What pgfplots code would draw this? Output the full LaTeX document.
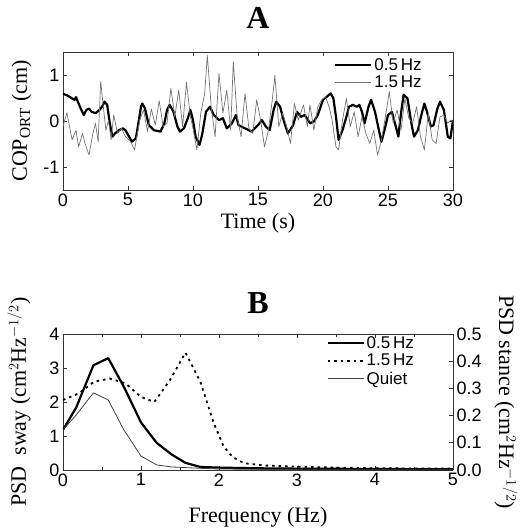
\documentclass[border=0pt]{standalone}
\usepackage{fontspec}
\setmainfont{Liberation Serif}
\newfontfamily\arial{Liberation Sans}
\usepackage{pgfplots}
\pgfplotsset{compat=1.18}

\pgfplotsset{
  panel/.style={
    scale only axis, width=390pt,
    tick align=inside, axis line style={black!80, line width=0.8pt},
    tick style={black!80, line width=0.7pt}, major tick length=4pt, minor tick length=3pt,
    tick label style={font=\fontsize{18}{18}\arial},
    /pgf/number format/assume math mode=true,
    label style={font=\fontsize{22}{24}\selectfont},
    legend style={draw=none, fill=none, font=\fontsize{17}{17}\arial,
                  cells={anchor=west}, row sep=0.5pt, inner sep=0pt},
    legend image code/.code={\draw[#1] (0pt,0pt) -- (36pt,0pt);},
  },
}

\begin{document}
\begin{tikzpicture}
\useasboundingbox (0pt,0pt) rectangle (522pt,531pt);

\node[font=\fontsize{32}{32}\selectfont\bfseries] at (258pt,513pt) {A};
\node[font=\fontsize{32}{32}\selectfont\bfseries] at (258pt,228pt) {B};

% panel A: COP time series
\begin{axis}[panel, at={(63pt,341pt)}, anchor=south west, height=138pt,
  xmin=0, xmax=30, ymin=-1.5, ymax=1.5,
  xtick={0,5,...,30}, ytick={-1,0,1},
  xlabel={Time (s)}, ylabel={COP$_{\mathrm{ORT}}$ (cm)},
  ylabel style={yshift=5pt},
  legend style={at={(0.695,0.97)}, anchor=north west},
]
\addplot[black, line width=2.2pt, line join=round] coordinates {
(0,0.59) (0.3,0.56) (0.7,0.49) (0.9,0.46) (1.0,0.52) (1.3,0.31) (1.6,0.13) (1.8,0.24)
(2.0,0.27) (2.2,0.20) (2.5,0.17) (2.8,0.24) (3.0,0.31) (3.2,0.42) (3.4,0.35) (3.6,-0.05)
(3.8,-0.34) (4.0,-0.27) (4.3,-0.20) (4.6,-0.16) (4.8,-0.20) (5.0,-0.30) (5.3,-0.45) (5.6,-0.38)
(5.8,-0.05) (6.0,0.31) (6.1,0.38) (6.3,0.28) (6.6,-0.09) (7.0,-0.20) (7.5,-0.23) (7.8,-0.05)
(8.0,0.24) (8.2,0.35) (8.5,0.20) (8.8,-0.12) (9.0,-0.23) (9.3,-0.16) (9.6,0.06) (9.8,0.24)
(10.0,0.02) (10.2,-0.34) (10.5,-0.52) (10.7,-0.30) (11.0,0.20) (11.3,0.31) (11.6,0.13) (12.0,0.02)
(12.3,0.06) (12.6,-0.16) (13.0,-0.05) (13.3,0.13) (13.5,-0.09) (14.0,-0.16) (14.5,-0.23) (15.0,-0.09)
(15.3,0.02) (15.6,-0.12) (15.9,-0.20) (16.2,0.24) (16.4,0.42) (16.7,0.31) (17.0,-0.01) (17.3,-0.27)
(17.7,-0.09) (18.0,0.20) (18.3,0.09) (18.6,0.13) (19.0,-0.05) (19.3,-0.01) (19.6,0.13) (20.0,0.46)
(20.3,0.53) (20.6,0.60) (20.8,0.49) (21.0,0.09) (21.2,-0.41) (21.5,-0.20) (21.8,0.09) (22.0,0.31)
(22.3,0.35) (22.6,0.31) (22.8,0.35) (23.0,0.20) (23.2,-0.05) (23.5,0.31) (23.7,0.46) (24.0,0.20)
(24.3,-0.20) (24.5,-0.45) (24.8,-0.12) (25.0,0.13) (25.3,0.20) (25.6,-0.12) (25.8,-0.34) (26.0,0.17)
(26.2,0.57) (26.5,0.49) (26.8,-0.05) (27.0,-0.34) (27.3,-0.20) (27.6,0.17) (27.8,0.38) (28.0,0.20)
(28.3,-0.12) (28.5,-0.09) (28.8,0.27) (29.0,0.42) (29.3,0.24) (29.6,-0.34) (29.8,-0.38) (30.0,0.02)};
\addlegendentry{0.5\,Hz}
\addplot[black!55, line width=0.7pt, line join=round] coordinates {
(0,-0.12) (0.3,0.18) (0.7,-0.41) (1.0,-0.20) (1.2,-0.56) (1.5,-0.27) (1.7,-0.49) (2.0,-0.74)
(2.3,-0.27) (2.5,-0.05) (2.7,-0.45) (2.9,0.86) (3.1,0.31) (3.3,-0.20) (3.5,0.02) (3.7,-0.41)
(3.9,0.13) (4.2,-0.27) (4.5,-0.16) (4.8,-0.34) (5.2,-0.45) (5.5,-0.63) (5.9,0.02) (6.2,0.24)
(6.5,-0.23) (6.8,0.26) (7.1,-0.09) (7.4,0.44) (7.7,-0.12) (8.0,-0.05) (8.3,0.71) (8.6,0.09)
(8.9,0.67) (9.2,-0.12) (9.5,0.84) (9.8,0.09) (10.0,-0.16) (10.3,-0.63) (10.6,0.17) (10.9,0.60)
(11.1,1.43) (11.4,0.31) (11.7,-0.34) (12.0,1.04) (12.3,0.17) (12.6,0.67) (12.9,-0.20) (13.1,1.29)
(13.4,0.09) (13.7,-0.34) (14.0,0.60) (14.3,-0.16) (14.6,-0.27) (14.9,0.46) (15.2,0.02) (15.5,-0.56)
(15.8,-0.20) (16.1,0.46) (16.3,0.99) (16.6,-0.12) (16.9,0.17) (17.2,-0.12) (17.5,-0.49) (17.8,0.38)
(18.1,0.02) (18.5,0.35) (18.8,-0.12) (19.0,0.35) (19.3,-0.20) (19.6,0.31) (19.9,0.46) (20.2,0.53)
(20.5,0.28) (20.7,0.02) (21.0,-0.56) (21.2,-0.63) (21.5,0.02) (21.8,0.49) (22.1,-0.12) (22.4,0.20)
(22.7,-0.34) (23.0,0.09) (23.3,-0.27) (23.6,-0.49) (23.9,-0.20) (24.2,-0.74) (24.5,-0.41) (24.8,0.09)
(25.1,0.64) (25.4,-0.05) (25.7,0.24) (26.0,-0.20) (26.3,0.49) (26.6,0.06) (26.9,-0.05) (27.2,0.31)
(27.5,-0.34) (27.8,-0.63) (28.1,0.17) (28.4,-0.41) (28.7,-0.49) (29.0,0.09) (29.3,0.13) (29.6,-0.05)
(29.8,0.02) (30.0,-0.01)};
\addlegendentry{1.5\,Hz}
\end{axis}

% panel B: power spectra, left scale (sway)
\begin{axis}[panel, at={(63pt,61pt)}, anchor=south west, height=136pt,
  xmin=0, xmax=5, ymin=0, ymax=4,
  xtick={0,...,5}, minor x tick num=1, ytick={0,...,4},
  axis y line*=left,
  xlabel={Frequency (Hz)}, ylabel={PSD\ \ sway (cm$^{2}$Hz$^{-1/2}$)},
  xlabel style={yshift=-14pt}, ylabel style={yshift=12pt},
  legend style={at={(0.675,1.0)}, anchor=north west},
]
\addplot[black, line width=2.2pt, line join=round] coordinates {
(0,1.18) (0.17,1.84) (0.39,3.08) (0.58,3.29) (0.78,2.45) (1.0,1.40) (1.2,0.80) (1.39,0.46)
(1.57,0.21) (1.76,0.09) (2.0,0.07) (2.5,0.05) (3.0,0.04) (4.0,0.03) (5.0,0.02)};
\addlegendentry{0.5\,Hz}
\addplot[black, line width=1.8pt, dash pattern=on 2.5pt off 4pt] coordinates {
(0,2.06) (0.2,2.25) (0.4,2.6) (0.6,2.69) (0.8,2.55) (1.0,2.15) (1.17,2.0) (1.37,2.64)
(1.57,3.45) (1.76,2.6) (1.93,1.4) (2.06,0.69) (2.17,0.39) (2.32,0.2) (2.6,0.13) (3.0,0.1)
(3.5,0.07) (4.0,0.05) (5.0,0.04)};
\addlegendentry{1.5\,Hz}
\addplot[black!75, line width=0.8pt, line join=round] coordinates {
(0,1.18) (0.17,1.62) (0.39,2.27) (0.58,2.06) (0.78,1.18) (1.0,0.41) (1.2,0.15) (1.39,0.09)
(1.76,0.05) (2.0,0.03) (3.0,0.01) (5.0,0.01)};
\addlegendentry{Quiet}
\end{axis}

% right scale (stance)
\begin{axis}[panel, at={(63pt,61pt)}, anchor=south west, height=136pt,
  xmin=0, xmax=5, ymin=0, ymax=0.5,
  axis y line*=right, axis x line=none,
  ytick={0,0.1,...,0.5},
  yticklabel style={/pgf/number format/.cd, fixed, fixed zerofill, precision=1},
  ylabel={PSD stance (cm$^{2}$Hz$^{-1/2}$)}, ylabel style={rotate=180, yshift=6pt},
]
\end{axis}
\end{tikzpicture}
\end{document}
